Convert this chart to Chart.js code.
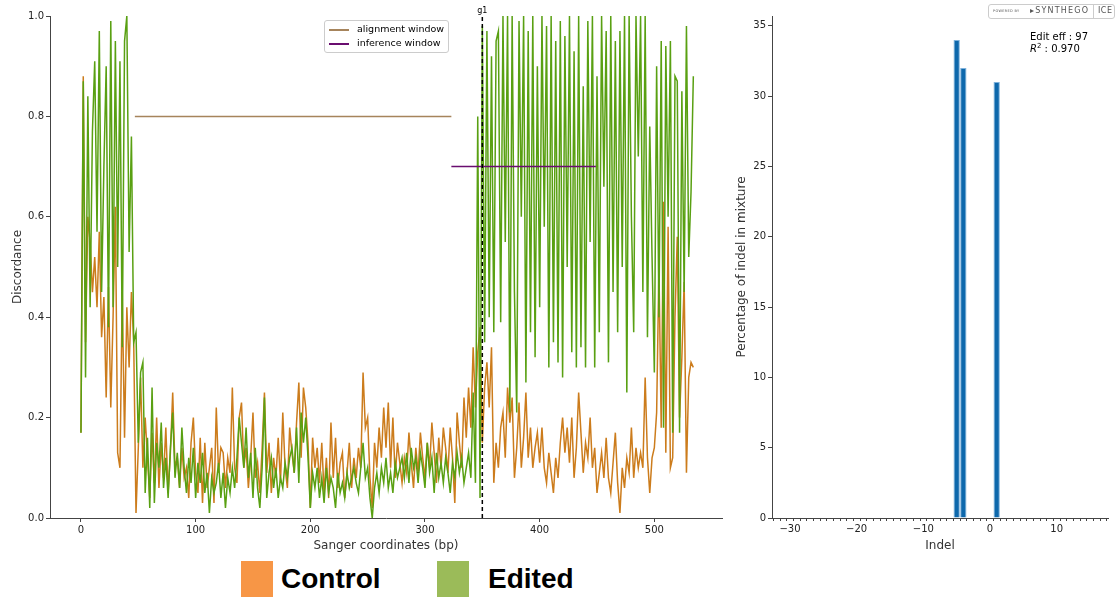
<!DOCTYPE html>
<html lang="en">
<head>
<meta charset="UTF-8">
<title>ICE discordance and indel contributions</title>
<script src="https://cdn.jsdelivr.net/npm/chart.js"></script>
<style>
  body { margin: 0; width: 1115px; height: 599px; background: #fff; position: relative; overflow: hidden;
         font-family: "DejaVu Sans", sans-serif; }
  #discWrap { position: absolute; left: 0; top: 0; width: 735px; height: 560px; }
  #indelWrap { position: absolute; left: 735px; top: 0; width: 380px; height: 560px; }
  .winLegend { position: absolute; left: 324px; top: 20px; width: 123px; height: 31px; border: 1px solid #ccc;
               border-radius: 3px; background: rgba(255,255,255,0.85); font-size: 9.5px; color: #000; }
  .winLegend div { position: absolute; left: 32px; white-space: nowrap; line-height: 12px; }
  .winLegend span { position: absolute; left: 4px; width: 20px; height: 1.5px; }
  .badge { position: absolute; left: 988px; top: 4px; width: 125px; height: 13px; border: 1px solid #ccc;
           border-radius: 3px; font-size: 8px; color: #555; white-space: nowrap; }
  .badge .pw { position: absolute; left: 4px; top: 4px; font-size: 3.5px; letter-spacing: 0.3px; }
  .badge .syn { position: absolute; left: 41px; top: 1px; letter-spacing: 1.2px; }
  .badge .sep { position: absolute; left: 104px; top: 0; height: 13px; border-left: 1px solid #ccc; }
  .badge .ice { position: absolute; left: 109px; top: 1px; letter-spacing: 0.5px; }
  .stats { position: absolute; left: 1030px; top: 31px; font-size: 10px; line-height: 12px; color: #000; }
  .stats sup { font-size: 7px; line-height: 0; }
  .sampleKey { position: absolute; top: 561px; height: 36px; font-family: "Liberation Sans", Arial, sans-serif;
               font-weight: bold; font-size: 28px; color: #000; }
  .sampleKey span { position: absolute; top: 0; width: 32px; height: 36px; }
  .sampleKey b { position: absolute; top: 2px; white-space: nowrap; }
</style>
</head>
<body>
<div id="discWrap"><canvas id="discChart" width="735" height="560"></canvas></div>
<div id="indelWrap"><canvas id="indelChart" width="380" height="560"></canvas></div>

<div class="winLegend">
  <span style="top:8px;background:#a6845c"></span><div style="top:2px">alignment window</div>
  <span style="top:22px;background:#6a0d6f"></span><div style="top:16px">inference window</div>
</div>

<div class="badge"><span class="pw">POWERED BY</span><span class="syn">&#9656;SYNTHEGO</span><span class="sep"></span><span class="ice">ICE</span></div>
<div class="stats">Edit eff : 97<br><i>R</i><sup>2</sup> : 0.970</div>

<div class="sampleKey" style="left:241px"><span style="background:#f79646"></span><b style="left:40px">Control</b></div>
<div class="sampleKey" style="left:437px"><span style="background:#9bbb59"></span><b style="left:51px">Edited</b></div>

<script>
// discordance per position, one value every 2 bp starting at 0
const STEP_BP = 2;
const controlDiscordance = [
  0.17, 0.88, 0.35, 0.60, 0.55, 0.45, 0.52, 0.42, 0.57, 0.36,
  0.44, 0.24, 0.46, 0.22, 0.40, 0.62, 0.13, 0.10, 0.45, 0.16,
  0.42, 0.30, 0.45, 0.35, 0.01, 0.14, 0.28, 0.10, 0.20, 0.12,
  0.04, 0.17, 0.07, 0.20, 0.06, 0.15, 0.08, 0.18, 0.05, 0.13,
  0.25, 0.10, 0.12, 0.06, 0.14, 0.08, 0.10, 0.04, 0.15, 0.20,
  0.09, 0.05, 0.16, 0.03, 0.15, 0.06, 0.10, 0.14, 0.03, 0.22,
  0.09, 0.14, 0.13, 0.06, 0.12, 0.09, 0.26, 0.10, 0.07, 0.20,
  0.23, 0.10, 0.14, 0.06, 0.12, 0.21, 0.08, 0.11, 0.05, 0.14,
  0.25, 0.09, 0.15, 0.05, 0.12, 0.08, 0.16, 0.07, 0.21, 0.10,
  0.06, 0.18, 0.13, 0.09, 0.19, 0.27, 0.12, 0.26, 0.22, 0.15,
  0.02, 0.16, 0.10, 0.14, 0.07, 0.15, 0.05, 0.12, 0.04, 0.19,
  0.08, 0.16, 0.06, 0.11, 0.13, 0.04, 0.09, 0.15, 0.06, 0.12,
  0.08, 0.14, 0.10, 0.29, 0.18, 0.20, 0.08, 0.02, 0.15, 0.10,
  0.18, 0.12, 0.22, 0.14, 0.23, 0.10, 0.20, 0.08, 0.15, 0.11,
  0.07, 0.12, 0.09, 0.17, 0.11, 0.06, 0.14, 0.09, 0.17, 0.12,
  0.08, 0.15, 0.10, 0.19, 0.13, 0.07, 0.16, 0.10, 0.18, 0.14,
  0.09, 0.18, 0.12, 0.03, 0.21, 0.15, 0.10, 0.24, 0.16, 0.26,
  0.18, 0.34, 0.22, 0.33, 0.38, 0.15, 0.26, 0.31, 0.22, 0.34,
  0.07, 0.15, 0.10, 0.18, 0.21, 0.12, 0.26, 0.19, 0.24, 0.08,
  0.14, 0.23, 0.10, 0.16, 0.25, 0.12, 0.18, 0.10, 0.14, 0.17,
  0.11, 0.18, 0.10, 0.07, 0.13, 0.09, 0.05, 0.12, 0.08, 0.15,
  0.20, 0.13, 0.18, 0.11, 0.20, 0.08, 0.14, 0.25, 0.17, 0.09,
  0.15, 0.12, 0.20, 0.10, 0.14, 0.05, 0.09, 0.13, 0.08, 0.16,
  0.08, 0.05, 0.11, 0.17, 0.07, 0.01, 0.10, 0.06, 0.12, 0.09,
  0.18, 0.08, 0.14, 0.10, 0.13, 0.10, 0.28, 0.12, 0.05, 0.12,
  0.14, 0.21, 0.50, 0.18, 0.63, 0.13, 0.58, 0.10, 0.12, 0.40,
  0.56, 0.20, 0.32, 0.47, 0.09, 0.28, 0.31, 0.30
];
const editedDiscordance = [
  0.17, 0.87, 0.28, 0.84, 0.42, 0.77, 0.91, 0.57, 0.97, 0.45,
  0.70, 0.90, 0.38, 0.99, 0.42, 0.95, 0.50, 0.91, 0.34, 0.95,
  1.00, 0.53, 0.76, 0.35, 0.37, 0.15, 0.29, 0.31, 0.05, 0.16,
  0.02, 0.26, 0.03, 0.15, 0.10, 0.19, 0.06, 0.12, 0.04, 0.14,
  0.21, 0.08, 0.13, 0.06, 0.18, 0.10, 0.05, 0.12, 0.07, 0.14,
  0.04, 0.11, 0.07, 0.13, 0.05, 0.09, 0.01, 0.08, 0.05, 0.07,
  0.11, 0.04, 0.09, 0.02, 0.08, 0.05, 0.10, 0.06, 0.12, 0.20,
  0.15, 0.10, 0.18, 0.08, 0.13, 0.04, 0.14, 0.06, 0.02, 0.10,
  0.24, 0.04, 0.09, 0.12, 0.06, 0.10, 0.04, 0.08, 0.06, 0.11,
  0.08, 0.12, 0.14, 0.09, 0.18, 0.07, 0.21, 0.15, 0.20, 0.12,
  0.02, 0.09, 0.06, 0.10, 0.04, 0.08, 0.03, 0.10, 0.05, 0.08,
  0.06, 0.02, 0.09, 0.05, 0.07, 0.04, 0.09, 0.06, 0.08, 0.10,
  0.07, 0.05, 0.10, 0.15, 0.08, 0.10, 0.04, 0.00, 0.06, 0.09,
  0.05, 0.10, 0.07, 0.12, 0.06, 0.09, 0.05, 0.11, 0.08, 0.10,
  0.12, 0.08, 0.13, 0.07, 0.14, 0.10, 0.12, 0.07, 0.13, 0.10,
  0.06, 0.15, 0.09, 0.12, 0.05, 0.13, 0.08, 0.11, 0.07, 0.12,
  0.09, 0.05, 0.11, 0.08, 0.13, 0.09, 0.12, 0.07, 0.10, 0.13,
  0.08, 0.25, 0.07, 0.80, 0.04, 0.98, 0.35, 0.97, 0.40, 0.92,
  0.37, 0.95, 0.97, 0.39, 1.00, 0.55, 1.00, 0.21, 1.00, 0.45,
  0.21, 0.99, 0.60, 1.00, 0.27, 0.97, 0.37, 1.00, 0.32, 0.90,
  0.42, 1.00, 0.58, 0.98, 0.30, 1.00, 0.35, 0.95, 0.31, 0.99,
  0.28, 0.96, 0.50, 1.00, 0.33, 0.93, 0.30, 1.00, 0.34, 0.86,
  0.30, 0.99, 0.55, 1.00, 0.30, 0.88, 0.37, 1.00, 0.66, 0.97,
  0.31, 1.00, 0.45, 0.95, 0.37, 0.97, 0.50, 1.00, 0.25, 1.00,
  0.60, 0.37, 1.00, 0.72, 1.00, 0.45, 1.00, 0.36, 0.78, 0.52,
  0.29, 0.90, 0.40, 0.95, 0.18, 0.94, 0.60, 0.95, 0.17, 0.88,
  0.87, 0.17, 0.85, 0.45, 0.98, 0.52, 0.65, 0.88
];
const alignmentWindow = [47, 323];   // bp, drawn at 0.8
const inferenceWindow = [323, 449];  // bp, drawn at 0.7
const cutSite = 350;
const guideName = 'g1';

const indelSizes = [-5, -4, 1];
const indelPercent = [34, 32, 31];

const tickFont = { family: 'DejaVu Sans', size: 10 };
const titleFont = { family: 'DejaVu Sans', size: 12 };

function toPoints(values) {
  return values.map((v, i) => ({ x: i * STEP_BP, y: v }));
}

const guideLabel = {
  id: 'guideLabel',
  afterDatasetsDraw(chart) {
    const { ctx, scales: { x, y } } = chart;
    ctx.save();
    ctx.font = '8px "DejaVu Sans"';
    ctx.fillStyle = '#000';
    ctx.textAlign = 'center';
    ctx.textBaseline = 'bottom';
    ctx.fillText(guideName, x.getPixelForValue(cutSite), y.getPixelForValue(1) - 1);
    ctx.restore();
  }
};

new Chart(document.getElementById('discChart'), {
  type: 'line',
  data: {
    datasets: [
      { data: [{ x: cutSite, y: 0 }, { x: cutSite, y: 1 }], borderColor: '#000', borderWidth: 1.5, borderDash: [4, 3] },
      { data: inferenceWindow.map(x => ({ x, y: 0.7 })), borderColor: '#6a0d6f', borderWidth: 1.5 },
      { data: alignmentWindow.map(x => ({ x, y: 0.8 })), borderColor: '#a6845c', borderWidth: 1.5 },
      { data: toPoints(editedDiscordance), borderColor: '#59a012', borderWidth: 1.5 },
      { data: toPoints(controlDiscordance), borderColor: '#cc7c1c', borderWidth: 1.5 }
    ]
  },
  options: {
    responsive: false,
    animation: false,
    layout: { padding: { top: 16, right: 13, left: 0, bottom: 0 } },
    elements: { point: { radius: 0 }, line: { tension: 0 } },
    plugins: { legend: { display: false }, tooltip: { enabled: false } },
    scales: {
      x: {
        type: 'linear', min: -27, max: 559,
        afterFit: s => { s.height = 42; },
        ticks: { stepSize: 100, includeBounds: false, font: tickFont, color: '#222', padding: 2, maxRotation: 0 },
        grid: { drawOnChartArea: false, tickLength: 4, color: '#444' },
        border: { color: '#444' },
        title: { display: true, text: 'Sanger coordinates (bp)', font: titleFont, color: '#333', padding: { top: 0, bottom: 7 } }
      },
      y: {
        min: 0, max: 1,
        afterFit: s => { s.width = 50; },
        ticks: { stepSize: 0.2, font: tickFont, color: '#222', padding: 2, callback: v => v.toFixed(1) },
        grid: { drawOnChartArea: false, tickLength: 4, color: '#444' },
        border: { color: '#444' },
        title: { display: true, text: 'Discordance', font: titleFont, color: '#333', padding: { top: 11, bottom: 0 } }
      }
    }
  },
  plugins: [guideLabel]
});

new Chart(document.getElementById('indelChart'), {
  type: 'bar',
  data: {
    datasets: [{
      data: indelSizes.map((s, i) => ({ x: s, y: indelPercent[i] })),
      backgroundColor: '#0d68ac',
      borderColor: '#7fb2dc',
      borderWidth: 1,
      barPercentage: 1,
      categoryPercentage: 0.95
    }]
  },
  options: {
    responsive: false,
    animation: false,
    layout: { padding: { top: 16, right: 7, left: 0, bottom: 0 } },
    plugins: { legend: { display: false }, tooltip: { enabled: false } },
    scales: {
      x: {
        type: 'linear', min: -32.7, max: 17.7, offset: false,
        afterFit: s => { s.height = 42; },
        ticks: {
          stepSize: 1, includeBounds: false, autoSkip: false, maxRotation: 0, font: tickFont, color: '#222', padding: 2,
          callback: v => (v % 10 === 0 ? String(v).replace('-', '\u2212') : '')
        },
        grid: { drawOnChartArea: false, tickLength: 3, color: '#444' },
        border: { color: '#444' },
        title: { display: true, text: 'Indel', font: titleFont, color: '#333', padding: { top: 0, bottom: 7 } }
      },
      y: {
        min: 0, max: 35.7,
        afterFit: s => { s.width = 37; },
        ticks: { stepSize: 5, includeBounds: false, font: tickFont, color: '#222', padding: 2 },
        grid: { drawOnChartArea: false, tickLength: 4, color: '#444' },
        border: { color: '#444' },
        title: { display: true, text: 'Percentage of indel in mixture', font: titleFont, color: '#333', padding: { top: 0, bottom: 0 } }
      }
    }
  }
});
</script>
</body>
</html>
